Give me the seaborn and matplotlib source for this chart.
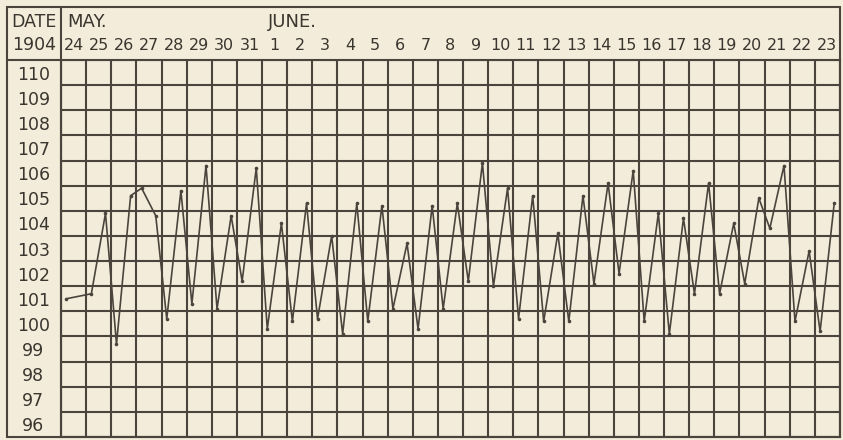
import numpy as np
import pandas as pd
import matplotlib.pyplot as plt
from matplotlib.lines import Line2D
from matplotlib.patches import Rectangle
import seaborn as sns

# ---------------- data ----------------
day_labels = ['24', '25', '26', '27', '28', '29', '30', '31',
              '1', '2', '3', '4', '5', '6', '7', '8', '9', '10', '11', '12',
              '13', '14', '15', '16', '17', '18', '19', '20', '21', '22', '23']
months = ['MAY.', 'JUNE.']
month_start_day = [0, 8]          # index in day_labels where the month begins

temp_am = [101.0, 101.2, 99.2, 105.4, 100.2, 100.8, 100.6, 101.7, 99.8, 100.1,
           100.2, 99.6, 100.1, 100.6, 99.8, 100.6, 101.7, 101.5, 100.2, 100.1,
           100.1, 101.6, 102.0, 100.1, 99.6, 101.2, 101.2, 101.6, 103.8, 100.1, 99.7]
temp_pm = [np.nan, 104.4, 105.1, 104.3, 105.3, 106.3, 104.3, 106.2, 104.0, 104.8,
           103.5, 104.8, 104.7, 103.2, 104.7, 104.8, 106.4, 105.4, 105.1, 103.6,
           105.1, 105.6, 106.1, 104.4, 104.2, 105.6, 104.0, 105.0, 106.3, 102.9, 104.8]
temp_scale = list(range(96, 111))

# morning / evening reading, as fraction of the day
reading_frac = {'AM': 5 / 24, 'PM': 18.5 / 24}

rows = []
for i in range(len(day_labels)):
    rows.append({'t': i + reading_frac['AM'], 'temp': temp_am[i]})
    rows.append({'t': i + reading_frac['PM'], 'temp': temp_pm[i]})
df = pd.DataFrame(rows).dropna()

# ---------------- style ----------------
paper = '#f3ecda'
ink = '#4a443d'
text_ink = '#3a352f'

sns.set_theme(style='white')
plt.rcParams['font.family'] = ['DejaVu Sans']
plt.rcParams['text.color'] = text_ink

W, H = 843, 440
fig = plt.figure(figsize=(W / 100, H / 100), dpi=100, facecolor=paper)

# plot area in pixel coords: x 61..840, y 60..437
left, right, top, bottom = 61, 840, 60, 437
ax = fig.add_axes([left / W, (H - bottom) / H, (right - left) / W, (bottom - top) / H])
ax.set_facecolor(paper)

sns.lineplot(data=df, x='t', y='temp', ax=ax, sort=False, estimator=None,
             color=ink, linewidth=1.2, marker='o', markersize=2.6,
             markeredgewidth=0, markerfacecolor=ink)

n_days = len(day_labels)
ax.set_xlim(0, n_days)
ax.set_ylim(temp_scale[0] - 0.5, temp_scale[-1] + 0.5)

# grid lines on cell borders
ax.set_xticks(np.arange(0, n_days + 1), minor=True)
ax.set_yticks(np.arange(temp_scale[0] - 0.5, temp_scale[-1] + 1), minor=True)
ax.grid(which='minor', color=ink, linewidth=1.5)
ax.grid(which='major', visible=False)

# labels in cell centres
ax.set_xticks(np.arange(n_days) + 0.5)
ax.set_xticklabels(day_labels, fontsize=11.5, color=text_ink)
ax.xaxis.tick_top()
ax.set_yticks(temp_scale)
ax.set_yticklabels([str(v) for v in temp_scale], fontsize=12.5, color=text_ink,
                   ha='center')
ax.tick_params(which='both', length=0)
ax.tick_params(axis='x', pad=5)
ax.tick_params(axis='y', pad=20)
ax.set_xlabel('')
ax.set_ylabel('')

for s in ax.spines.values():
    s.set_color(ink)
    s.set_linewidth(1.5)

# month names
trans = ax.get_xaxis_transform()
for name, start in zip(months, month_start_day):
    ax.text(start + 0.25, 1 + (top - 22) / (bottom - top), name, transform=trans,
            ha='left', va='center', fontsize=13, color=text_ink, clip_on=False)

# header on the left
fig.text(34 / W, 1 - 22 / H, 'DATE', ha='center', va='center', fontsize=12.5, color=text_ink)
fig.text(34 / W, 1 - 45 / H, '1904', ha='center', va='center', fontsize=12.5, color=text_ink)

# outer frame and divider
fig.add_artist(Rectangle((7 / W, (H - bottom) / H), (right - 7) / W, (bottom - 7) / H,
                         transform=fig.transFigure, fill=False, edgecolor=ink, linewidth=1.5))
fig.add_artist(Line2D([left / W, left / W], [(H - bottom) / H, (H - 7) / H],
                      transform=fig.transFigure, color=ink, linewidth=1.5))
fig.add_artist(Line2D([7 / W, left / W], [(H - top) / H, (H - top) / H],
                      transform=fig.transFigure, color=ink, linewidth=1.5))

fig.savefig('out.png', dpi=100, facecolor=paper)
